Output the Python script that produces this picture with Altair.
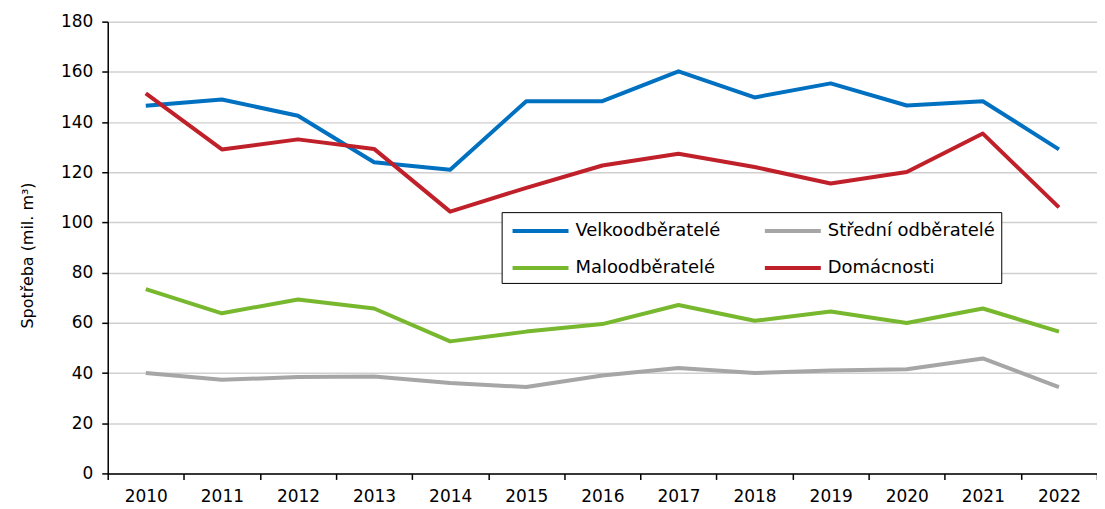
import altair as alt
import pandas as pd

years = [str(y) for y in range(2010, 2023)]
series_names = ["Velkoodběratelé", "Střední odběratelé", "Maloodběratelé", "Domácnosti"]
velko = [146.5, 149.0, 142.5, 124.0, 121.0, 148.3, 148.3, 160.2, 149.8, 155.4, 146.6, 148.3, 129.1]
stredni = [40.0, 37.3, 38.4, 38.6, 36.0, 34.4, 39.0, 42.0, 40.0, 41.0, 41.5, 45.8, 34.4]
malo = [73.4, 63.8, 69.3, 65.7, 52.6, 56.5, 59.5, 67.1, 60.8, 64.5, 59.9, 65.7, 56.5]
domac = [151.4, 129.1, 133.1, 129.3, 104.3, 113.8, 122.7, 127.4, 122.1, 115.5, 120.1, 135.4, 106.0]
colors = ["#0070C0", "#A6A6A6", "#77B82E", "#C0202A"]

rows = []
for name, vals in zip(series_names, [velko, stredni, malo, domac]):
    for y, v in zip(years, vals):
        rows.append({"rok": y, "serie": name, "hodnota": v})
df = pd.DataFrame(rows)

FONT = "DejaVu Sans"

chart = alt.Chart(df).mark_line(strokeWidth=4, strokeJoin="round").encode(
    x=alt.X("rok:O", bandPosition=0.5,
            scale=alt.Scale(type="band", paddingInner=0, paddingOuter=0),
            axis=alt.Axis(title=None, labelAngle=0, tickBand="extent",
                          domainColor="black", tickColor="black", tickSize=6,
                          labelPadding=9, labelFontSize=17, labelFont=FONT,
                          labelColor="black", grid=False)),
    y=alt.Y("hodnota:Q",
            scale=alt.Scale(domain=[0, 180], nice=False),
            axis=alt.Axis(title="Spotřeba (mil. m³)", values=list(range(0, 181, 20)),
                          domainColor="black", tickColor="black", tickSize=6,
                          labelPadding=9, labelFontSize=17, labelFont=FONT,
                          labelColor="black", gridColor="#D0D0D0", gridWidth=1.5,
                          titleFont=FONT, titleFontSize=16, titleFontWeight="normal",
                          titleColor="black", titlePadding=25, titleY=234)),
    color=alt.Color("serie:N",
                    scale=alt.Scale(domain=series_names, range=colors),
                    legend=alt.Legend(title=None, orient="none", legendX=395, legendY=191,
                                      columns=2, direction="horizontal",
                                      symbolType="M-2.55,0L2.55,0", symbolSize=484,
                                      symbolStrokeWidth=4, symbolOffset=20,
                                      labelOffset=22, columnPadding=35, rowPadding=15,
                                      labelLimit=400,
                                      labelFont=FONT, labelFontSize=18, labelColor="black",
                                      fillColor="white", strokeColor="black", padding=6)),
).properties(
    width=992, height=453,
    autosize=alt.AutoSizeParams(type="none"),
    padding={"left": 100, "top": 13, "right": 0, "bottom": 36},
).configure_view(stroke=None).configure_axis(domainWidth=1.5, tickWidth=1.5)

chart.save("out.html", embed_options={"renderer": "svg", "actions": False})
